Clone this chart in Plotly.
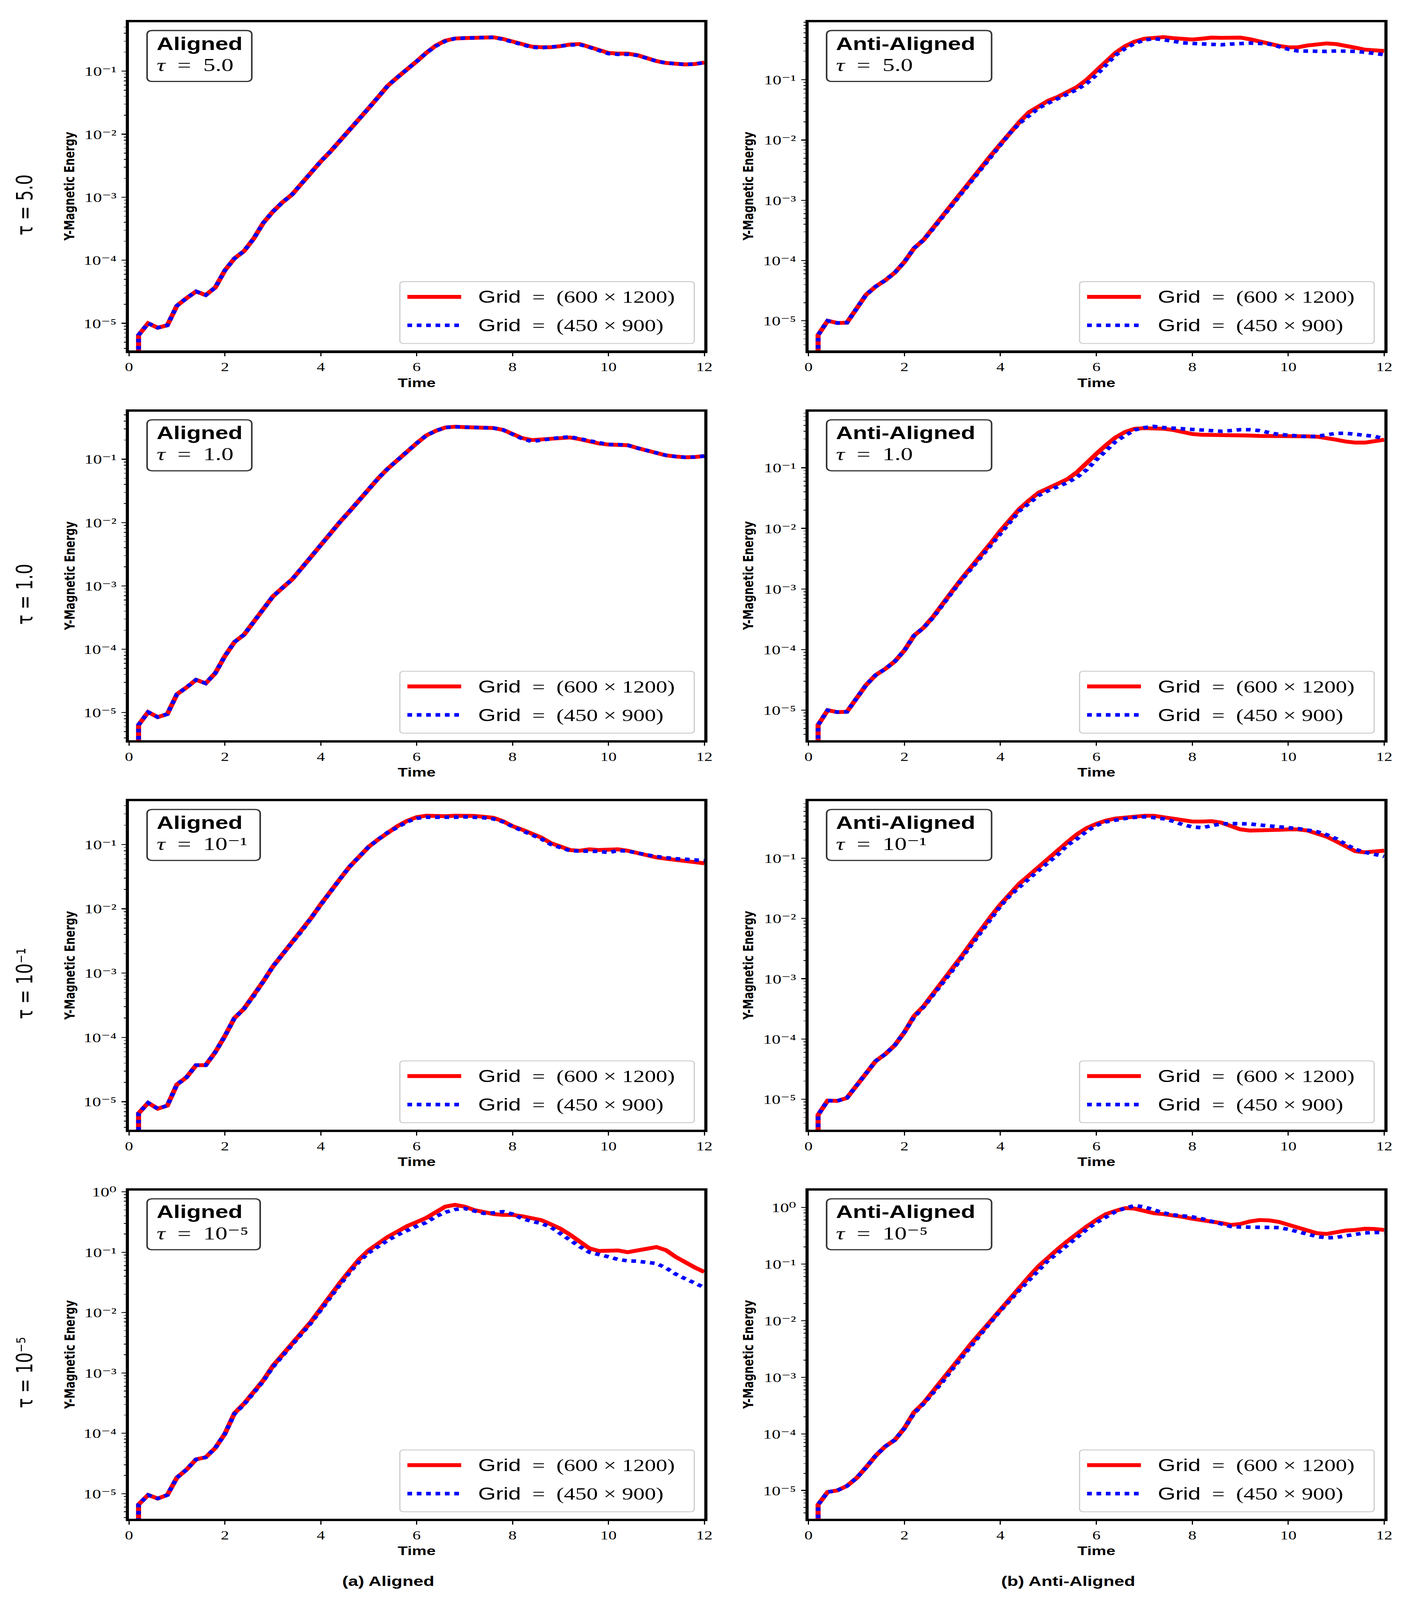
import plotly.graph_objects as go

# ---------------- data ----------------
T = [0.2, 0.2, 0.4, 0.6, 0.8, 1.0, 1.2, 1.4, 1.6, 1.8, 2.0,
     2.2, 2.4, 2.6, 2.8, 3.0, 3.2, 3.4, 3.6, 3.8, 4.0,
     4.2, 4.4, 4.6, 4.8, 5.0, 5.2, 5.4, 5.6, 5.8, 6.0,
     6.2, 6.4, 6.6, 6.8, 7.0, 7.2, 7.4, 7.6, 7.8, 8.0,
     8.2, 8.4, 8.6, 8.8, 9.0, 9.2, 9.4, 9.6, 9.8, 10.0,
     10.2, 10.4, 10.6, 10.8, 11.0, 11.2, 11.4, 11.6, 11.8, 12.0]

# Aligned, tau = 5.0
al_5_fine = [1e-7,
    6.5e-6, 1.0e-5, 8.5e-6, 9.3e-6, 1.9e-5, 2.5e-5, 3.2e-5, 2.8e-5, 3.7e-5, 6.9e-5,
    1.07e-4, 1.4e-4, 2.2e-4, 3.9e-4, 5.9e-4, 8.3e-4, 1.1e-3, 1.65e-3, 2.5e-3, 3.7e-3,
    5.3e-3, 7.8e-3, 1.17e-2, 1.78e-2, 2.6e-2, 3.9e-2, 5.9e-2, 8.0e-2, 0.105, 0.143,
    0.195, 0.255, 0.305, 0.33, 0.335, 0.335, 0.34, 0.345, 0.325, 0.295,
    0.27, 0.245, 0.24, 0.24, 0.25, 0.265, 0.27, 0.245, 0.215, 0.195,
    0.19, 0.19, 0.18, 0.16, 0.145, 0.135, 0.13, 0.128, 0.13, 0.137]
al_5_coarse = [1e-7,
    6.5e-6, 1.0e-5, 8.5e-6, 9.3e-6, 1.9e-5, 2.5e-5, 3.2e-5, 2.8e-5, 3.7e-5, 6.9e-5,
    1.07e-4, 1.4e-4, 2.2e-4, 3.9e-4, 5.9e-4, 8.3e-4, 1.1e-3, 1.65e-3, 2.5e-3, 3.7e-3,
    5.3e-3, 7.8e-3, 1.17e-2, 1.78e-2, 2.6e-2, 3.9e-2, 5.9e-2, 8.0e-2, 0.105, 0.143,
    0.195, 0.25, 0.30, 0.33, 0.335, 0.34, 0.345, 0.345, 0.32, 0.29,
    0.265, 0.24, 0.235, 0.24, 0.25, 0.26, 0.265, 0.24, 0.21, 0.19,
    0.185, 0.185, 0.178, 0.16, 0.145, 0.135, 0.13, 0.128, 0.13, 0.137]

# Anti-aligned, tau = 5.0
an_5_fine = [1e-7,
    5.8e-6, 1.0e-5, 9.2e-6, 9.3e-6, 1.6e-5, 2.7e-5, 3.7e-5, 4.7e-5, 6.3e-5, 9.5e-5,
    1.6e-4, 2.2e-4, 3.5e-4, 5.6e-4, 8.5e-4, 1.35e-3, 2.2e-3, 3.5e-3, 5.5e-3, 8.5e-3,
    1.35e-2, 2.0e-2, 2.9e-2, 3.7e-2, 4.5e-2, 5.2e-2, 6.3e-2, 7.6e-2, 0.10, 0.14,
    0.20, 0.28, 0.36, 0.43, 0.48, 0.50, 0.51, 0.49, 0.47, 0.465,
    0.48, 0.50, 0.495, 0.50, 0.50, 0.47, 0.43, 0.40, 0.365, 0.345,
    0.345, 0.37, 0.39, 0.40, 0.39, 0.37, 0.34, 0.315, 0.305, 0.30]
an_5_coarse = [1e-7,
    5.8e-6, 1.0e-5, 9.2e-6, 9.3e-6, 1.6e-5, 2.7e-5, 3.7e-5, 4.7e-5, 6.3e-5, 9.5e-5,
    1.6e-4, 2.2e-4, 3.4e-4, 5.4e-4, 8.3e-4, 1.3e-3, 2.1e-3, 3.4e-3, 5.3e-3, 8.2e-3,
    1.3e-2, 1.9e-2, 2.6e-2, 3.4e-2, 4.1e-2, 4.9e-2, 5.7e-2, 6.9e-2, 8.7e-2, 0.12,
    0.175, 0.255, 0.33, 0.40, 0.455, 0.48, 0.46, 0.43, 0.41, 0.40,
    0.395, 0.39, 0.38, 0.39, 0.40, 0.405, 0.40, 0.39, 0.355, 0.32,
    0.30, 0.295, 0.295, 0.295, 0.30, 0.30, 0.295, 0.285, 0.275, 0.26]

# Aligned, tau = 1.0
al_1_fine = [1e-7,
    6.4e-6, 1.02e-5, 8.5e-6, 9.5e-6, 1.95e-5, 2.5e-5, 3.3e-5, 2.9e-5, 4.2e-5, 7.8e-5,
    1.3e-4, 1.7e-4, 2.7e-4, 4.4e-4, 6.8e-4, 9.3e-4, 1.26e-3, 1.9e-3, 2.9e-3, 4.6e-3,
    6.8e-3, 1.02e-2, 1.5e-2, 2.25e-2, 3.4e-2, 5.0e-2, 7.1e-2, 9.8e-2, 0.133, 0.178,
    0.236, 0.28, 0.316, 0.325, 0.32, 0.32, 0.32, 0.31, 0.29, 0.247,
    0.215, 0.20, 0.205, 0.21, 0.22, 0.22, 0.207, 0.19, 0.177, 0.17,
    0.17, 0.166, 0.15, 0.136, 0.124, 0.115, 0.11, 0.107, 0.108, 0.112]
al_1_coarse = [1e-7,
    6.4e-6, 1.02e-5, 8.5e-6, 9.5e-6, 1.95e-5, 2.5e-5, 3.3e-5, 2.9e-5, 4.2e-5, 7.8e-5,
    1.3e-4, 1.7e-4, 2.7e-4, 4.4e-4, 6.8e-4, 9.3e-4, 1.26e-3, 1.9e-3, 2.9e-3, 4.6e-3,
    6.8e-3, 1.02e-2, 1.5e-2, 2.25e-2, 3.4e-2, 5.0e-2, 7.1e-2, 9.8e-2, 0.133, 0.178,
    0.236, 0.28, 0.316, 0.325, 0.32, 0.32, 0.32, 0.31, 0.29, 0.247,
    0.21, 0.19, 0.20, 0.21, 0.22, 0.225, 0.21, 0.19, 0.177, 0.17,
    0.17, 0.166, 0.15, 0.136, 0.124, 0.115, 0.11, 0.107, 0.108, 0.112]

# Anti-aligned, tau = 1.0
an_1_fine = [1e-7,
    5.7e-6, 1.0e-5, 9.3e-6, 9.4e-6, 1.6e-5, 2.6e-5, 3.8e-5, 4.8e-5, 6.4e-5, 9.7e-5,
    1.7e-4, 2.3e-4, 3.5e-4, 5.9e-4, 9.3e-4, 1.5e-3, 2.3e-3, 3.6e-3, 5.7e-3, 9.1e-3,
    1.4e-2, 2.1e-2, 2.9e-2, 3.9e-2, 4.6e-2, 5.4e-2, 6.5e-2, 8.5e-2, 0.117, 0.17,
    0.235, 0.316, 0.39, 0.44, 0.45, 0.45, 0.44, 0.42, 0.385, 0.36,
    0.35, 0.35, 0.345, 0.35, 0.35, 0.34, 0.335, 0.335, 0.34, 0.34,
    0.34, 0.33, 0.325, 0.31, 0.29, 0.27, 0.26, 0.26, 0.275, 0.29]
an_1_coarse = [1e-7,
    5.7e-6, 1.0e-5, 9.3e-6, 9.4e-6, 1.6e-5, 2.6e-5, 3.8e-5, 4.8e-5, 6.4e-5, 9.7e-5,
    1.7e-4, 2.3e-4, 3.4e-4, 5.6e-4, 8.9e-4, 1.45e-3, 2.2e-3, 3.4e-3, 5.4e-3, 8.6e-3,
    1.3e-2, 1.95e-2, 2.6e-2, 3.5e-2, 4.2e-2, 4.9e-2, 5.7e-2, 7.0e-2, 9.3e-2, 0.135,
    0.19, 0.27, 0.34, 0.42, 0.46, 0.48, 0.46, 0.45, 0.44, 0.42,
    0.41, 0.405, 0.40, 0.41, 0.425, 0.425, 0.41, 0.38, 0.355, 0.345,
    0.33, 0.325, 0.33, 0.355, 0.37, 0.37, 0.36, 0.35, 0.33, 0.30]

# Aligned, tau = 1e-1
al_m1_fine = [1e-7,
    6.6e-6, 9.6e-6, 7.8e-6, 8.7e-6, 1.85e-5, 2.4e-5, 3.7e-5, 3.7e-5, 5.9e-5, 1.05e-4,
    2.0e-4, 2.8e-4, 4.4e-4, 7.4e-4, 1.26e-3, 1.95e-3, 2.9e-3, 4.5e-3, 7.2e-3, 1.17e-2,
    1.9e-2, 2.9e-2, 4.5e-2, 6.6e-2, 9.2e-2, 0.12, 0.155, 0.193, 0.233, 0.266,
    0.28, 0.275, 0.275, 0.28, 0.28, 0.278, 0.27, 0.26, 0.23, 0.193,
    0.17, 0.15, 0.128, 0.105, 0.092, 0.082, 0.080, 0.084, 0.082, 0.082,
    0.084, 0.080, 0.074, 0.0675, 0.063, 0.060, 0.058, 0.056, 0.054, 0.051]
al_m1_coarse = [1e-7,
    6.6e-6, 9.6e-6, 7.8e-6, 8.7e-6, 1.85e-5, 2.4e-5, 3.7e-5, 3.7e-5, 5.9e-5, 1.05e-4,
    2.0e-4, 2.8e-4, 4.4e-4, 7.4e-4, 1.26e-3, 1.95e-3, 2.9e-3, 4.5e-3, 7.2e-3, 1.17e-2,
    1.9e-2, 2.9e-2, 4.5e-2, 6.6e-2, 9.2e-2, 0.12, 0.155, 0.185, 0.225, 0.255,
    0.265, 0.265, 0.262, 0.265, 0.268, 0.265, 0.26, 0.25, 0.225, 0.19,
    0.165, 0.145, 0.122, 0.10, 0.088, 0.080, 0.079, 0.079, 0.078, 0.075,
    0.080, 0.079, 0.075, 0.069, 0.065, 0.062, 0.060, 0.059, 0.058, 0.056]

# Anti-aligned, tau = 1e-1
an_m1_fine = [1e-7,
    5.5e-6, 9.5e-6, 9.4e-6, 1.05e-5, 1.7e-5, 2.7e-5, 4.3e-5, 5.6e-5, 7.9e-5, 1.3e-4,
    2.4e-4, 3.5e-4, 5.6e-4, 9.0e-4, 1.45e-3, 2.4e-3, 4.0e-3, 6.7e-3, 1.07e-2, 1.7e-2,
    2.6e-2, 3.8e-2, 5.2e-2, 7.2e-2, 9.8e-2, 0.133, 0.185, 0.25, 0.316, 0.37,
    0.42, 0.455, 0.475, 0.49, 0.505, 0.505, 0.48, 0.45, 0.42, 0.405,
    0.405, 0.41, 0.39, 0.34, 0.30, 0.287, 0.287, 0.29, 0.295, 0.30,
    0.30, 0.287, 0.26, 0.227, 0.19, 0.155, 0.13, 0.125, 0.127, 0.133]
an_m1_coarse = [1e-7,
    5.5e-6, 9.5e-6, 9.4e-6, 1.05e-5, 1.7e-5, 2.7e-5, 4.3e-5, 5.6e-5, 7.9e-5, 1.3e-4,
    2.3e-4, 3.4e-4, 5.3e-4, 8.5e-4, 1.37e-3, 2.25e-3, 3.7e-3, 6.2e-3, 1.0e-2, 1.6e-2,
    2.4e-2, 3.4e-2, 4.6e-2, 6.3e-2, 8.5e-2, 0.115, 0.165, 0.21, 0.28, 0.35,
    0.40, 0.43, 0.455, 0.475, 0.485, 0.47, 0.45, 0.41, 0.36, 0.33,
    0.32, 0.345, 0.37, 0.375, 0.375, 0.37, 0.355, 0.34, 0.33, 0.32,
    0.31, 0.295, 0.275, 0.245, 0.21, 0.17, 0.14, 0.125, 0.115, 0.107]

# Aligned, tau = 1e-5
al_m5_fine = [1e-7,
    6.6e-6, 9.5e-6, 8.3e-6, 9.5e-6, 1.84e-5, 2.5e-5, 3.7e-5, 4.0e-5, 5.7e-5, 9.8e-5,
    2.15e-4, 3.1e-4, 4.8e-4, 7.5e-4, 1.3e-3, 1.96e-3, 2.95e-3, 4.5e-3, 7.1e-3, 1.16e-2,
    1.94e-2, 3.1e-2, 4.9e-2, 7.6e-2, 0.108, 0.143, 0.18, 0.22, 0.27, 0.316,
    0.37, 0.46, 0.57, 0.61, 0.57, 0.50, 0.46, 0.43, 0.415, 0.415,
    0.395, 0.37, 0.34, 0.29, 0.245, 0.195, 0.147, 0.116, 0.105, 0.107,
    0.107, 0.10, 0.105, 0.114, 0.122, 0.108, 0.084, 0.067, 0.056, 0.047]
al_m5_coarse = [1e-7,
    6.6e-6, 9.5e-6, 8.3e-6, 9.5e-6, 1.84e-5, 2.5e-5, 3.7e-5, 4.0e-5, 5.7e-5, 9.8e-5,
    2.1e-4, 3.0e-4, 4.7e-4, 7.3e-4, 1.25e-3, 1.9e-3, 2.85e-3, 4.3e-3, 6.8e-3, 1.1e-2,
    1.85e-2, 2.9e-2, 4.6e-2, 7.0e-2, 9.8e-2, 0.126, 0.158, 0.193, 0.23, 0.27,
    0.31, 0.39, 0.46, 0.51, 0.53, 0.48, 0.44, 0.45, 0.47, 0.43,
    0.36, 0.325, 0.30, 0.26, 0.20, 0.155, 0.124, 0.10, 0.093, 0.084,
    0.076, 0.072, 0.071, 0.0685, 0.065, 0.055, 0.0435, 0.0365, 0.031, 0.026]

# Anti-aligned, tau = 1e-5
an_m5_fine = [1e-7,
    5.6e-6, 9.4e-6, 1.0e-5, 1.2e-5, 1.65e-5, 2.55e-5, 4.1e-5, 6.0e-5, 7.8e-5, 1.26e-4,
    2.4e-4, 3.5e-4, 5.6e-4, 8.9e-4, 1.5e-3, 2.45e-3, 4.0e-3, 6.3e-3, 1.02e-2, 1.6e-2,
    2.55e-2, 3.9e-2, 6.0e-2, 9.2e-2, 0.133, 0.184, 0.254, 0.35, 0.46, 0.60,
    0.76, 0.87, 0.97, 0.95, 0.87, 0.79, 0.76, 0.725, 0.68, 0.63,
    0.585, 0.56, 0.53, 0.49, 0.51, 0.565, 0.60, 0.59, 0.555, 0.49,
    0.435, 0.39, 0.35, 0.34, 0.37, 0.39, 0.40, 0.42, 0.415, 0.40]
an_m5_coarse = [1e-7,
    5.6e-6, 9.4e-6, 1.0e-5, 1.2e-5, 1.65e-5, 2.55e-5, 4.1e-5, 6.0e-5, 7.8e-5, 1.26e-4,
    2.3e-4, 3.4e-4, 5.3e-4, 8.4e-4, 1.4e-3, 2.3e-3, 3.7e-3, 5.9e-3, 9.5e-3, 1.5e-2,
    2.35e-2, 3.5e-2, 5.2e-2, 8.0e-2, 0.117, 0.157, 0.216, 0.31, 0.41, 0.54,
    0.68, 0.84, 0.97, 1.08, 1.02, 0.90, 0.80, 0.74, 0.72, 0.68,
    0.63, 0.565, 0.50, 0.46, 0.45, 0.45, 0.44, 0.435, 0.44, 0.41,
    0.37, 0.33, 0.305, 0.29, 0.295, 0.315, 0.34, 0.355, 0.36, 0.36]

# panel order: row by row, (aligned, anti-aligned)
fine_series = [al_5_fine, an_5_fine, al_1_fine, an_1_fine,
               al_m1_fine, an_m1_fine, al_m5_fine, an_m5_fine]
coarse_series = [al_5_coarse, an_5_coarse, al_1_coarse, an_1_coarse,
                 al_m1_coarse, an_m1_coarse, al_m5_coarse, an_m5_coarse]

y_ranges = [(-5.433, -0.223), (-5.494, -0.046),
            (-5.435, -0.249), (-5.495, -0.073),
            (-5.437, -0.327), (-5.507, -0.055),
            (-5.418, 0.022), (-5.502, 0.298)]

SP = "\u2002"
row_labels = ["τ = 5.0", "τ = 1.0", "τ = 10⁻¹", "τ = 10⁻⁵"]
box_tau = [f"<i>τ</i>{SP}={SP}5.0", f"<i>τ</i>{SP}={SP}1.0",
           f"<i>τ</i>{SP}={SP}10⁻¹", f"<i>τ</i>{SP}={SP}10⁻⁵"]
col_titles = ["Aligned", "Anti-Aligned"]
col_captions = ["(a) Aligned", "(b) Anti-Aligned"]
legend_names = ["Grid = (600 × 1200)", "Grid = (450 × 900)"]
x_ticks = [0, 2, 4, 6, 8, 10, 12]
y_tick_vals = [1e-5, 1e-4, 1e-3, 1e-2, 1e-1, 1e0]
y_tick_text = ["10⁻⁵", "10⁻⁴", "10⁻³", "10⁻²", "10⁻¹", "10⁰"]

# ---------------- layout geometry (pixels) ----------------
W, H = 3630, 5384
COLS = [(318, 1812), (2073, 3568)]
ROWS = [(51, 1168), (1366, 2484), (2682, 3800), (3997, 5114)]
LW = 8  # spine width

SERIF = "Liberation Serif, DejaVu Serif, serif"
SANS = "Liberation Sans, Arial, sans-serif"
DJ = "DejaVu Sans, sans-serif"


def px(x):
    return x / W


def py(y):
    return 1 - y / H


def dx(c, f):
    a, b = COLS[c]
    return a + f * (b - a)


def dy(r, f):
    a, b = ROWS[r]
    return b - f * (b - a)


minor_vals = [m * 10.0 ** e for e in range(-7, 1) for m in range(2, 10)]

fig = go.Figure()
layout = dict(width=W, height=H, margin=dict(l=0, r=0, t=0, b=0),
              paper_bgcolor="white", plot_bgcolor="white", showlegend=False)
shapes = []
annotations = []


def rrect(x0, y0, x1, y1, r, color, width):
    X = px
    Y = py
    p = (f"M{X(x0 + r)},{Y(y0)} L{X(x1 - r)},{Y(y0)} Q{X(x1)},{Y(y0)} {X(x1)},{Y(y0 + r)} "
         f"L{X(x1)},{Y(y1 - r)} Q{X(x1)},{Y(y1)} {X(x1 - r)},{Y(y1)} "
         f"L{X(x0 + r)},{Y(y1)} Q{X(x0)},{Y(y1)} {X(x0)},{Y(y1 - r)} "
         f"L{X(x0)},{Y(y0 + r)} Q{X(x0)},{Y(y0)} {X(x0 + r)},{Y(y0)} Z")
    return dict(type="path", path=p, xref="paper", yref="paper",
                line=dict(color=color, width=width), fillcolor="white", layer="above")


def ann(text, x, y, size, family, xanchor="left", yanchor="middle", angle=0):
    return dict(text=text, x=px(x), y=py(y), xref="paper", yref="paper", showarrow=False,
                xanchor=xanchor, yanchor=yanchor, textangle=angle,
                font=dict(family=family, size=size, color="black"))


h = LW / 2
for i in range(8):
    r, c = divmod(i, 2)
    n = "" if i == 0 else str(i + 1)
    xa, ya = "x" + n, "y" + n
    fig.add_trace(go.Scatter(x=T, y=fine_series[i], xaxis=xa, yaxis=ya, mode="lines",
                             line=dict(color="#ff0000", width=13), name=legend_names[0],
                             showlegend=False))
    fig.add_trace(go.Scatter(x=T, y=coarse_series[i], xaxis=xa, yaxis=ya, mode="lines",
                             line=dict(color="#0000ff", width=12, dash="dot"),
                             name=legend_names[1], showlegend=False))
    layout["xaxis" + n] = dict(
        domain=[px(COLS[c][0] + h), px(COLS[c][1] - h)], anchor=ya, range=[0, 12],
        tickmode="array", tickvals=x_ticks, ticks="outside", ticklen=11, tickwidth=3,
        tickcolor="black", showline=True, linewidth=LW, linecolor="black", mirror=True,
        showgrid=False, zeroline=False, ticklabelstandoff=0,
        tickfont=dict(family=SERIF, size=42, color="black"))
    lo, hi = y_ranges[i]
    layout["yaxis" + n] = dict(
        domain=[py(ROWS[r][1] - h), py(ROWS[r][0] + h)], anchor=xa, type="log",
        range=[lo, hi],
        tickmode="array", tickvals=y_tick_vals, ticktext=y_tick_text,
        ticks="outside", ticklen=11, tickwidth=3, tickcolor="black",
        minor=dict(tickmode="array", tickvals=minor_vals, ticks="outside", ticklen=5,
                   tickwidth=2, tickcolor="black", showgrid=False),
        showline=True, linewidth=LW, linecolor="black", mirror=True,
        showgrid=False, zeroline=False, ticklabelstandoff=4,
        tickfont=dict(family=SERIF, size=45, color="black"))

    # axis titles
    annotations.append(ann("<b>Time</b>", dx(c, 0.5), ROWS[r][1] + 104, 42, SANS,
                           xanchor="center"))
    ylab_x = 169 if c == 0 else 1922
    annotations.append(ann("<b>Y-Magnetic Energy</b>", ylab_x, dy(r, 0.5), 35, DJ,
                           xanchor="center", angle=-90))

    # title box
    bx1 = 0.215 if c == 0 else 0.319
    if c == 0 and r >= 2:
        bx1 = 0.2295
    top = ROWS[r][0]
    shapes.append(rrect(dx(c, 0.034), top + 32, dx(c, bx1), top + 204, 14, "#333333", 4))
    annotations.append(ann(f"<b>{col_titles[c]}</b>", dx(c, 0.049), top + 77, 60, SANS))
    annotations.append(ann(box_tau[r], dx(c, 0.049), top + 148, 62, SERIF))

    # legend frame and entries
    shapes.append(rrect(dx(c, 0.471), dy(r, 0.212), dx(c, 0.980), dy(r, 0.025), 10,
                        "#cccccc", 3))
    for k, (yy, col, wdt, dash) in enumerate([(0.166, "#ff0000", 13, "solid"),
                                              (0.080, "#0000ff", 12, "dot")]):
        shapes.append(dict(type="line", xref="paper", yref="paper",
                           x0=px(dx(c, 0.484)), x1=px(dx(c, 0.577)),
                           y0=py(dy(r, yy)), y1=py(dy(r, yy)),
                           line=dict(color=col, width=wdt, dash=dash), layer="above"))
        name = legend_names[k].replace(" = ", f"{SP}={SP}")
        name = name.replace("Grid", "<span style='font-family:Liberation Sans'>Grid</span>")
        annotations.append(ann(name, dx(c, 0.605), dy(r, yy), 58, SERIF))

# row labels
row_label_y = [672, 1987, 3302, 4616]
for r in range(4):
    annotations.append(ann(row_labels[r], 53, row_label_y[r], 56, DJ,
                           xanchor="center", angle=-90))

# column captions
for c, cx in enumerate([992, 2748]):
    annotations.append(ann(f"<b>{col_captions[c]}</b>", cx, 5321, 46, SANS,
                           xanchor="center"))

layout["shapes"] = shapes
layout["annotations"] = annotations
fig.update_layout(**layout)

# If the browser viewport is smaller than the figure, fit the whole figure into it
fit = """
document.documentElement.style.margin='0';
document.body.style.margin='0';
var gd=document.getElementById('{plot_id}');
var sx=Math.min(1, window.innerWidth/%d), sy=Math.min(1, window.innerHeight/%d);
if (sx<1 || sy<1) {
  document.documentElement.style.overflow='hidden';
  document.body.style.overflow='hidden';
  document.body.style.height=window.innerHeight+'px';
  gd.style.transformOrigin='0 0';
  gd.style.transform='scale('+sx+','+sy+')';
}
""" % (W, H)
fig.write_html("out.html", post_script=fit,
               config={"displayModeBar": False, "staticPlot": True})
